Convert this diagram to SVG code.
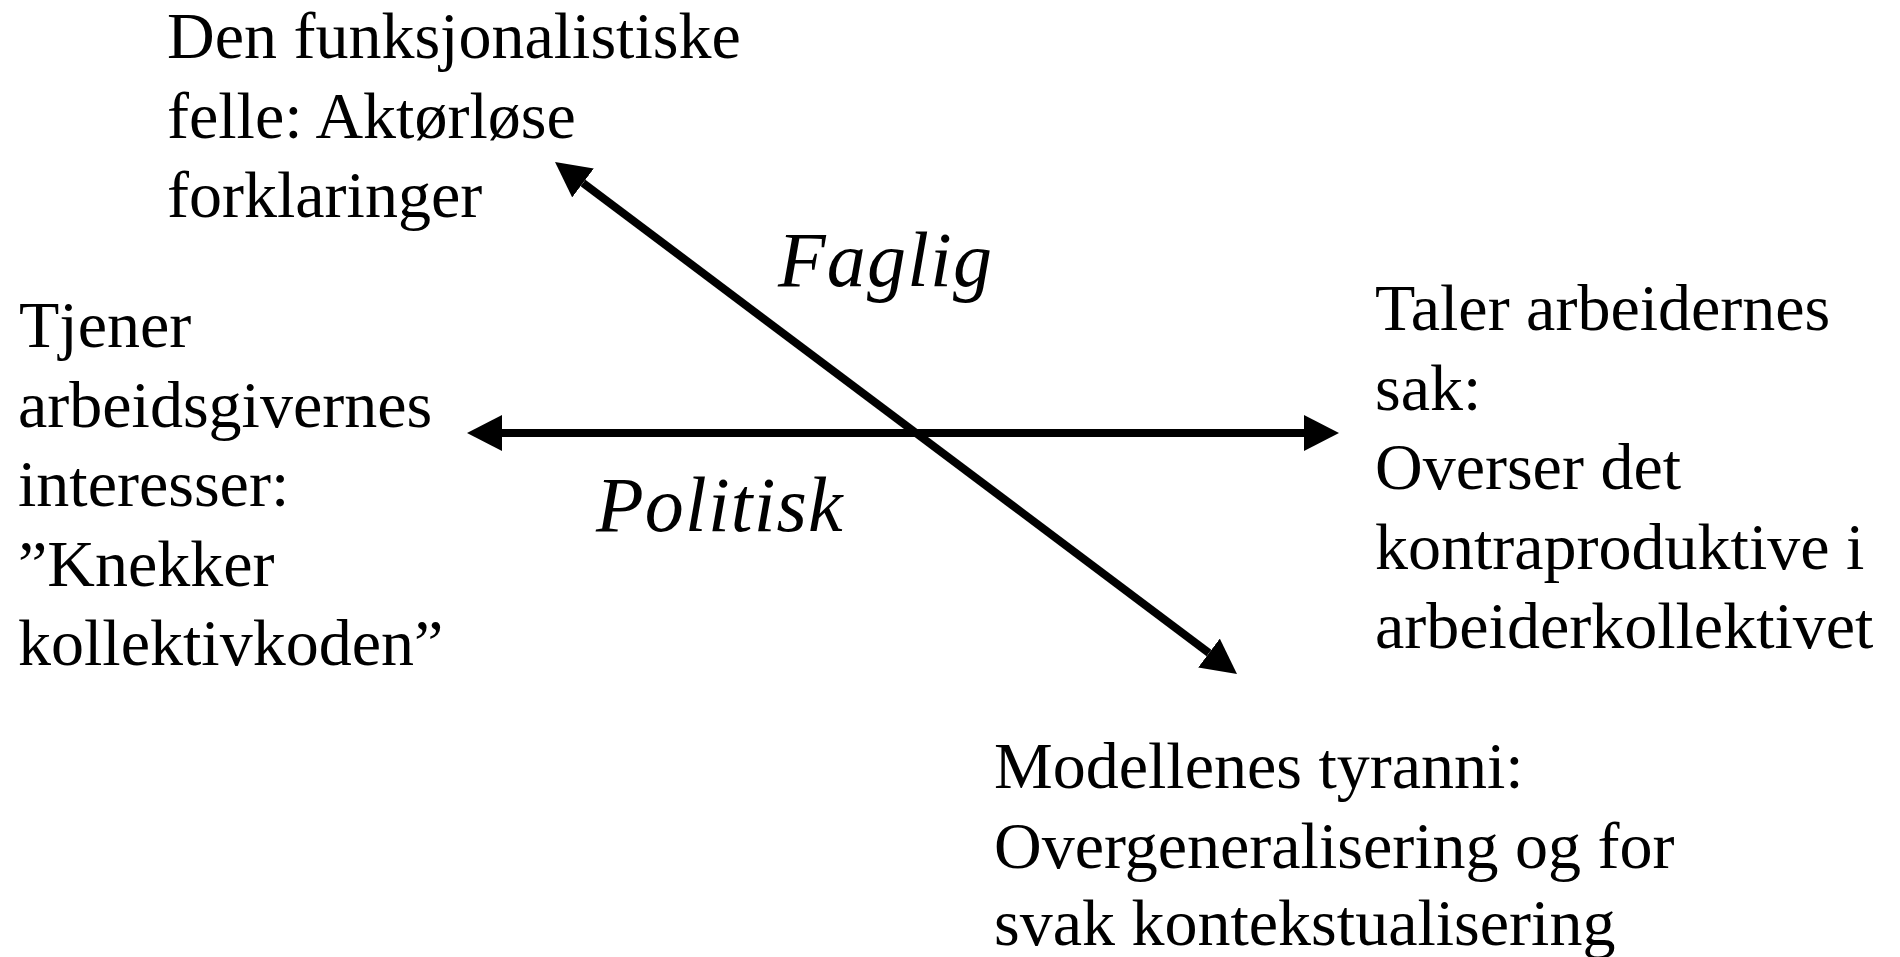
<svg xmlns="http://www.w3.org/2000/svg" width="1900" height="957" viewBox="0 0 1900 957">
<style>
text{font-family:"Liberation Serif","Times New Roman",serif;font-size:66px;fill:#000}
.lbl{font-style:italic;font-size:78px;letter-spacing:1.2px}
.conn{stroke:#000;stroke-width:8;fill:none}
</style>
<defs>
<marker id="ah" viewBox="0 0 35 36" refX="0" refY="18" markerWidth="35" markerHeight="36" markerUnits="userSpaceOnUse" orient="auto-start-reverse">
<path d="M0,0 L35,18 L0,36 Z" fill="#000"/>
</marker>
</defs>
<rect width="1900" height="957" fill="#fff"/>
<g id="connectors">
<line class="conn" x1="502" y1="433" x2="1304" y2="433" marker-start="url(#ah)" marker-end="url(#ah)"/>
<line class="conn" x1="583" y1="183" x2="1209" y2="653" marker-start="url(#ah)" marker-end="url(#ah)"/>
</g>
<g id="node-top">
<text x="167" y="58">Den funksjonalistiske</text>
<text x="167" y="137.5">felle: Aktørløse</text>
<text x="167" y="217">forklaringer</text>
</g>
<g id="node-left">
<text x="19" y="347">Tjener</text>
<text x="18" y="426.5">arbeidsgivernes</text>
<text x="18" y="506">interesser:</text>
<text x="18" y="585.5">”Knekker</text>
<text x="18" y="665">kollektivkoden”</text>
</g>
<g id="node-right">
<text x="1375" y="330">Taler arbeidernes</text>
<text x="1375" y="409.5">sak:</text>
<text x="1375" y="489">Overser det</text>
<text x="1375" y="568.5">kontraproduktive i</text>
<text x="1375" y="648">arbeiderkollektivet</text>
</g>
<g id="node-bottom">
<text x="994" y="788">Modellenes tyranni:</text>
<text x="994" y="867.5">Overgeneralisering og for</text>
<text x="994" y="945">svak kontekstualisering</text>
</g>
<g id="label-faglig"><text class="lbl" x="778" y="286">Faglig</text></g>
<g id="label-politisk"><text class="lbl" x="596" y="531">Politisk</text></g>
</svg>
